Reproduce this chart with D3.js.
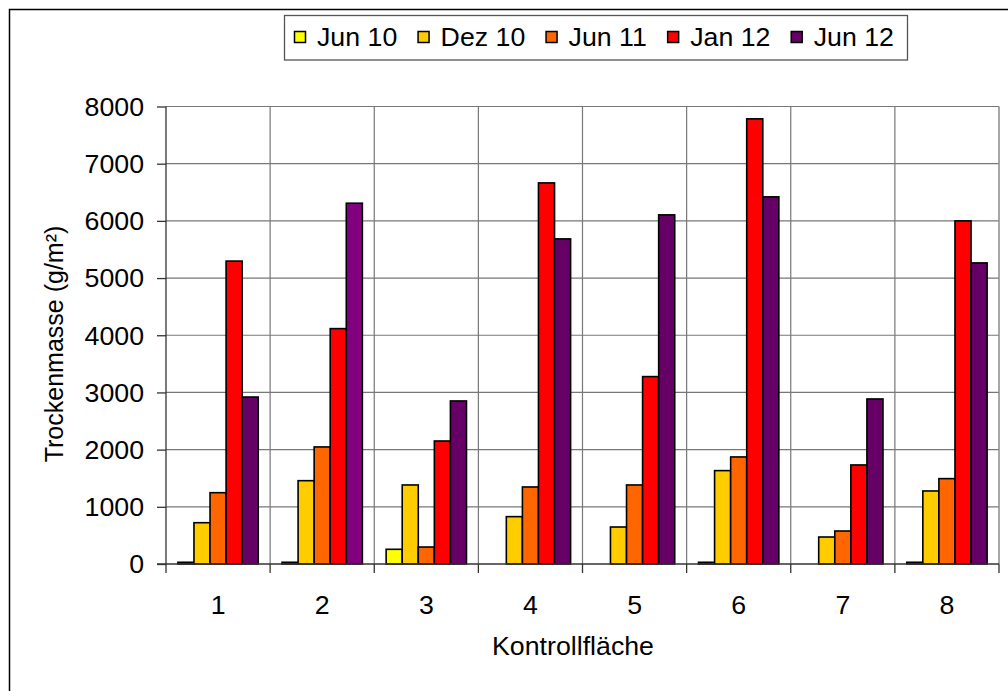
<!DOCTYPE html>
<html><head><meta charset="utf-8">
<script src="https://cdn.jsdelivr.net/npm/d3@7"></script>
<style>
body{margin:0;background:#fff}
text{font-family:"Liberation Sans",Arial,Helvetica,sans-serif;fill:#000}
</style></head>
<body><svg id="c" width="1008" height="691"></svg>
<script>
const categories = ["1","2","3","4","5","6","7","8"];
const seriesNames = ["Jun 10","Dez 10","Jun 11","Jan 12","Jun 12"];
const seriesColors = ["#FFFF00","#FFCC00","#FF6600","#FF0000","#660066"];
const jun10 = [30, 30, 257, 0, 0, 30, 0, 30];
const dez10 = [722, 1457, 1382, 828, 647, 1633, 472, 1277];
const jun11 = [1247, 2047, 297, 1347, 1382, 1872, 577, 1493];
const jan12 = [5297, 4116, 2151, 6664, 3277, 7784, 1732, 6000];
const jun12 = [2920, 6309, 2851, 5685, 6105, 6420, 2886, 5265];
const pointColorOverrides = [{series:"Jun 12", category:"2", color:"#800080"}];
const yTicks = [0,1000,2000,3000,4000,5000,6000,7000,8000];
const yTitle = "Trockenmasse (g/m²)";
const xTitle = "Kontrollfläche";

const values = [jun10, dez10, jun11, jan12, jun12];
const svg = d3.select("#c");
const L = 166, R = 999, T = 106.5, B = 564;
const FS = 25, SX = 1.07;

function label(parent, px, py, str, anchor, rot) {
  return parent.append("text")
    .attr("transform", `translate(${px},${py})` + (rot ? ` rotate(${rot})` : "") + ` scale(${SX},1)`)
    .attr("text-anchor", anchor || "start").attr("font-size", FS).text(str);
}

// outer chart frame
svg.append("rect").attr("x",9.5).attr("y",9.5).attr("width",1100).attr("height",800)
  .attr("fill","none").attr("stroke","#000").attr("stroke-width",1.5);

const x = d3.scaleBand().domain(categories).range([L,R]).padding(0);
const xs = d3.scaleBand().domain(seriesNames).range([0,x.bandwidth()]).paddingInner(0).paddingOuter(0.74);
const y = d3.scaleLinear().domain([0,8000]).range([B,T]);

// gridlines
const g = svg.append("g");
g.selectAll("line.h").data(yTicks.slice(1)).join("line")
  .attr("x1",L).attr("x2",R).attr("y1",d=>y(d)).attr("y2",d=>y(d))
  .attr("stroke","#777").attr("stroke-width",1.2);
g.selectAll("line.v").data(categories.slice(1)).join("line")
  .attr("x1",d=>x(d)).attr("x2",d=>x(d)).attr("y1",T).attr("y2",B)
  .attr("stroke","#777").attr("stroke-width",1.2);
g.append("line").attr("x1",R).attr("x2",R).attr("y1",T).attr("y2",B)
  .attr("stroke","#8a8a8a").attr("stroke-width",1.5);

// bars
const data = [];
seriesNames.forEach((s,si)=>categories.forEach((c,ci)=>{
  const v = values[si][ci];
  if (v>0) {
    const o = pointColorOverrides.find(p=>p.series===s && p.category===c);
    data.push({s,c,v,color:o?o.color:seriesColors[si]});
  }
}));
svg.append("g").selectAll("rect").data(data).join("rect")
  .attr("x",d=>x(d.c)+xs(d.s)).attr("width",xs.bandwidth())
  .attr("y",d=>y(d.v)).attr("height",d=>B-y(d.v))
  .attr("fill",d=>d.color).attr("stroke","#000").attr("stroke-width",1.6);

// y axis
const ya = svg.append("g").attr("transform",`translate(${L},0)`)
  .call(d3.axisLeft(y).tickValues(yTicks).tickSize(9).tickPadding(13).tickFormat(d3.format("d")));
ya.select(".domain").attr("stroke","#333").attr("stroke-width",1.3).attr("d",`M-0,${T}V${B+9}`);
ya.selectAll(".tick line").attr("stroke","#333").attr("stroke-width",1.3);
ya.selectAll(".tick text").attr("font-size",FS).attr("fill","#000")
  .attr("transform",`translate(-22,0) scale(${SX},1)`).attr("x",null).attr("dy","0.35em");

// x axis
const xa = svg.append("g");
xa.append("line").attr("x1",L-9).attr("x2",R).attr("y1",B).attr("y2",B).attr("stroke","#333").attr("stroke-width",1.3);
xa.selectAll("line.t").data(categories.slice(1).map(c=>x(c)).concat([R])).join("line")
  .attr("x1",d=>d).attr("x2",d=>d).attr("y1",B).attr("y2",B+9).attr("stroke","#333").attr("stroke-width",1.3);
categories.forEach(c=>label(xa, x(c)+x.bandwidth()/2, 614, c, "middle"));

// titles
svg.append("text").attr("transform","translate(63,344) rotate(-90)").attr("text-anchor","middle")
  .attr("font-size",FS).text(yTitle);
label(svg, 573, 655, xTitle, "middle");

// legend
const lg = svg.append("g");
lg.append("rect").attr("x",284.5).attr("y",15.5).attr("width",623).attr("height",44.5)
  .attr("fill","#fff").attr("stroke","#555").attr("stroke-width",1.3);
const texts = seriesNames.map(s=>label(lg, 0, 46, s, "start"));
const widths = texts.map(t=>t.node().getComputedTextLength()*SX);
const totalItems = d3.sum(widths) + 24*seriesNames.length;
const gap = (895 - 294 - totalItems) / (seriesNames.length - 1);
let cx = 294;
seriesNames.forEach((s,i)=>{
  lg.append("rect").attr("x",cx+0.5).attr("y",31.5).attr("width",11).attr("height",11)
    .attr("fill",seriesColors[i]).attr("stroke","#000").attr("stroke-width",1.5);
  texts[i].attr("transform",`translate(${cx+23},46) scale(${SX},1)`);
  cx += 24 + widths[i] + gap;
});
</script></body></html>
